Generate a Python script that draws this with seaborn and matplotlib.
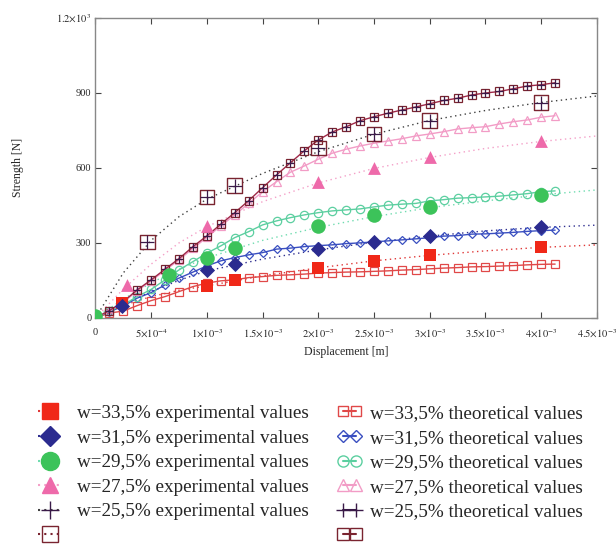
import numpy as np
import pandas as pd
import matplotlib
matplotlib.use("Agg")
import matplotlib.pyplot as plt
import seaborn as sns
from matplotlib.lines import Line2D

# ---------------- data (displacement in 1e-3 m, strength in N) ----------------
THEO_X = [0.0, 0.125, 0.25, 0.375, 0.5, 0.625, 0.75, 0.875, 1.0, 1.125, 1.25, 1.375,
          1.5, 1.625, 1.75, 1.875, 2.0, 2.125, 2.25, 2.375, 2.5, 2.625, 2.75, 2.875,
          3.0, 3.125, 3.25, 3.375, 3.5, 3.625, 3.75, 3.875, 4.0, 4.125]
THEO_335 = [0, 19, 27, 49, 69, 85, 105, 125, 139, 148, 152, 161, 165, 170, 172, 175, 179,
            181, 183, 184, 186, 188, 191, 193, 196, 199, 201, 204, 205, 207, 209, 212, 214, 215]
THEO_315 = [0, 24, 47, 79, 101, 132, 159, 183, 208, 228, 241, 252, 261, 275, 279, 285, 289,
            292, 297, 300, 304, 308, 312, 316, 321, 327, 329, 335, 336, 339, 342, 346, 349, 351]
THEO_295 = [0, 27, 52, 85, 114, 152, 192, 225, 259, 288, 321, 345, 372, 388, 401, 412, 421,
            428, 432, 436, 444, 451, 455, 458, 468, 473, 479, 481, 484, 487, 492, 497, 505, 508]
THEO_275 = [0, 28, 62, 108, 148, 190, 232, 278, 322, 368, 412, 458, 505, 545, 583, 608, 635,
            659, 675, 688, 699, 708, 717, 728, 736, 745, 756, 761, 765, 776, 785, 792, 803, 809]
THEO_255 = [0, 29, 65, 112, 152, 195, 237, 285, 328, 375, 421, 469, 521, 572, 621, 669, 712,
            744, 765, 789, 805, 819, 832, 844, 857, 870, 879, 892, 900, 906, 917, 928, 933, 941]

EXP_335_X = [0.235, 1.0, 1.25, 2.0, 2.5, 3.0, 4.0]
EXP_335_Y = [60, 128, 150, 200, 228, 252, 283]
EXP_315_X = [0.235, 1.0, 1.25, 2.0, 2.5, 3.0, 4.0]
EXP_315_Y = [48, 191, 217, 275, 305, 328, 363]
EXP_295_X = [0.0, 0.66, 1.0, 1.25, 2.0, 2.5, 3.0, 4.0]
EXP_295_Y = [8, 172, 239, 281, 368, 412, 445, 492]
EXP_275_X = [0.286, 1.0, 2.0, 2.5, 3.0, 4.0]
EXP_275_Y = [132, 368, 543, 598, 643, 708]
EXP_255_X = [0.466, 1.0, 1.25, 2.0, 2.5, 3.0, 4.0]
EXP_255_Y = [303, 483, 529, 679, 736, 789, 861]

FIT_X = [0.0, 0.25, 0.5, 0.75, 1.0, 1.5, 2.0, 2.5, 3.0, 3.5, 4.0, 4.5]
FIT_335 = [0, 50, 85, 110, 128, 168, 200, 228, 250, 268, 282, 292]
FIT_315 = [0, 55, 105, 150, 188, 235, 272, 303, 327, 348, 362, 371]
FIT_295 = [0, 75, 140, 195, 240, 310, 362, 405, 441, 468, 492, 512]
FIT_275 = [0, 115, 215, 300, 365, 465, 540, 598, 642, 678, 706, 728]
FIT_255 = [0, 180, 310, 405, 475, 578, 665, 735, 790, 830, 862, 888]

X_TICKS = [0, 0.5, 1.0, 1.5, 2.0, 2.5, 3.0, 3.5, 4.0, 4.5]
X_TICK_LABELS = ["0", r"$5{\times}10^{-4}$", r"$1{\times}10^{-3}$", r"$1.5{\times}10^{-3}$",
                 r"$2{\times}10^{-3}$", r"$2.5{\times}10^{-3}$", r"$3{\times}10^{-3}$",
                 r"$3.5{\times}10^{-3}$", r"$4{\times}10^{-3}$", r"$4.5{\times}10^{-3}$"]
Y_TICKS = [0, 300, 600, 900, 1200]
Y_TICK_LABELS = ["0", "300", "600", "900", r"$1.2{\times}10^{3}$"]

EXP_LABELS = ["w=33,5% experimental values", "w=31,5% experimental values",
              "w=29,5% experimental values", "w=27,5% experimental values",
              "w=25,5% experimental values", ""]
THEO_LABELS = ["w=33,5% theoretical values", "w=31,5% theoretical values",
               "w=29,5% theoretical values", "w=27,5% theoretical values",
               "w=25,5% theoretical values", ""]

# ---------------- style ----------------
sns.set_theme(style="white")
plt.rcParams['font.family'] = ['Liberation Serif', 'DejaVu Serif']
plt.rcParams['mathtext.fontset'] = 'stix'

RED_E, RED_T, RED_F = '#f02818', '#e04848', '#e03838'
NAV_E, BLU_T, BLU_F = '#2b2b8f', '#3a4fc0', '#303090'
GRN_E, GRN_T, GRN_F = '#3cc35a', '#5ccfa0', '#70dcb0'
PNK_E, PNK_T, PNK_F = '#ee6aaa', '#f29cc6', '#f4a0c8'
BOX, PLUS, T25, DARK_F = '#7a2430', '#3a1a48', '#a02848', '#404040'

fig = plt.figure(figsize=(6.16, 5.47), dpi=100)
ax = fig.add_axes([0.155, 0.419, 0.814, 0.548])

def sx(v):
    return np.asarray(v, dtype=float) * 1e-3

# dotted fit curves
for fy, c in [(FIT_335, RED_F), (FIT_315, BLU_F), (FIT_295, GRN_F), (FIT_275, PNK_F), (FIT_255, DARK_F)]:
    sns.lineplot(x=sx(FIT_X), y=fy, ax=ax, color=c, linestyle=(0, (1, 2.5)), linewidth=1.0,
                 zorder=1, legend=False)

# theoretical curves
theo_specs = [
    (THEO_335, RED_T, 's', 5.5),
    (THEO_315, BLU_T, 'D', 4.5),
    (THEO_295, GRN_T, 'o', 6),
    (THEO_275, PNK_T, '^', 6),
]
for ty, c, m, ms in theo_specs:
    sns.lineplot(x=sx(THEO_X), y=ty, ax=ax, color=c, linewidth=1.0, marker=m, markersize=ms,
                 markerfacecolor='none', markeredgecolor=c, markeredgewidth=0.9, zorder=2, legend=False)
sns.lineplot(x=sx(THEO_X), y=THEO_255, ax=ax, color=T25, linewidth=1.0, marker='s', markersize=6,
             markerfacecolor='none', markeredgecolor=BOX, markeredgewidth=0.9, zorder=2.2, legend=False)
sns.lineplot(x=sx(THEO_X), y=THEO_255, ax=ax, color=T25, linewidth=0, marker='+', markersize=6,
             markeredgecolor=PLUS, markeredgewidth=0.9, zorder=2.3, legend=False)

# experimental points
sns.scatterplot(x=sx(EXP_335_X), y=EXP_335_Y, ax=ax, marker='s', s=75, color=RED_E,
                edgecolor=RED_E, linewidth=0, zorder=3, legend=False)
sns.scatterplot(x=sx(EXP_315_X), y=EXP_315_Y, ax=ax, marker='D', s=60, color=NAV_E,
                edgecolor=NAV_E, linewidth=0, zorder=3, legend=False)
sns.scatterplot(x=sx(EXP_295_X), y=EXP_295_Y, ax=ax, marker='o', s=110, color=GRN_E,
                edgecolor=GRN_E, linewidth=0, zorder=3, legend=False)
sns.scatterplot(x=sx(EXP_275_X), y=EXP_275_Y, ax=ax, marker='^', s=85, color=PNK_E,
                edgecolor=PNK_E, linewidth=0, zorder=3, legend=False)
sns.scatterplot(x=sx(EXP_255_X), y=EXP_255_Y, ax=ax, marker='s', s=110, facecolor='none',
                edgecolor=BOX, linewidth=1.0, zorder=3, legend=False)
sns.scatterplot(x=sx(EXP_255_X), y=EXP_255_Y, ax=ax, marker='+', s=110, color=PLUS,
                linewidth=0.9, zorder=3.1, legend=False)

# axes
ax.set_xlim(0, 4.5e-3)
ax.set_ylim(0, 1200)
ax.set_xticks(sx(X_TICKS))
ax.set_xticklabels(X_TICK_LABELS, fontsize=7.5)
ax.set_yticks(Y_TICKS)
ax.set_yticklabels(Y_TICK_LABELS, fontsize=7.5)
ax.tick_params(direction='in', length=4, width=0.8, color='#444444', top=True, right=True,
               bottom=True, left=True, pad=3)
ax.tick_params(axis='x', pad=7)
for sp in ax.spines.values():
    sp.set_color('#888888')
    sp.set_linewidth(1.0)
ax.set_xlabel("Displacement [m]", fontsize=8.5, labelpad=4)
ax.set_ylabel("Strength [N]", fontsize=8.5, labelpad=23)
ax.grid(False)

# legends
exp_handles = [
    Line2D([], [], color=RED_F, linestyle=(0, (1, 2)), marker='s', markersize=11,
           markerfacecolor=RED_E, markeredgecolor=RED_E),
    Line2D([], [], color=BLU_F, linestyle=(0, (1, 2)), marker='D', markersize=10,
           markerfacecolor=NAV_E, markeredgecolor=NAV_E),
    Line2D([], [], color=GRN_F, linestyle=(0, (1, 2)), marker='o', markersize=13,
           markerfacecolor=GRN_E, markeredgecolor=GRN_E),
    Line2D([], [], color=PNK_F, linestyle=(0, (1, 2)), marker='^', markersize=11,
           markerfacecolor=PNK_E, markeredgecolor=PNK_E),
    Line2D([], [], color=DARK_F, linestyle=(0, (1, 2)), marker='+', markersize=13,
           markeredgecolor=PLUS, markeredgewidth=1.0),
    Line2D([], [], color=BOX, linestyle=(0, (1, 2)), marker='s', markersize=12,
           markerfacecolor='none', markeredgecolor=BOX),
]
theo_handles = [
    Line2D([], [], color=RED_T, marker='s', markersize=7, markerfacecolor='none', markeredgecolor=RED_T),
    Line2D([], [], color=BLU_T, marker='D', markersize=6, markerfacecolor='none', markeredgecolor=BLU_T),
    Line2D([], [], color=GRN_T, marker='o', markersize=8, markerfacecolor='none', markeredgecolor=GRN_T),
    Line2D([], [], color=PNK_T, marker='^', markersize=8, markerfacecolor='none', markeredgecolor=PNK_T),
    Line2D([], [], color=PLUS, marker='+', markersize=10, markeredgecolor=PLUS),
    Line2D([], [], color=BOX, marker='s', markersize=8, markerfacecolor='none', markeredgecolor=BOX),
]
leg1 = fig.legend(exp_handles, EXP_LABELS, loc='upper left', bbox_to_anchor=(0.05, 0.274),
                  frameon=False, fontsize=13.8, handlelength=1.2, handletextpad=0.8,
                  labelspacing=0.37, numpoints=1, borderaxespad=0)
leg2 = fig.legend(theo_handles, THEO_LABELS, loc='upper left', bbox_to_anchor=(0.535, 0.274),
                  frameon=False, fontsize=13.8, handlelength=1.3, handletextpad=0.4,
                  labelspacing=0.37, numpoints=2, borderaxespad=0)

fig.savefig("out.png", dpi=100, facecolor='white')
